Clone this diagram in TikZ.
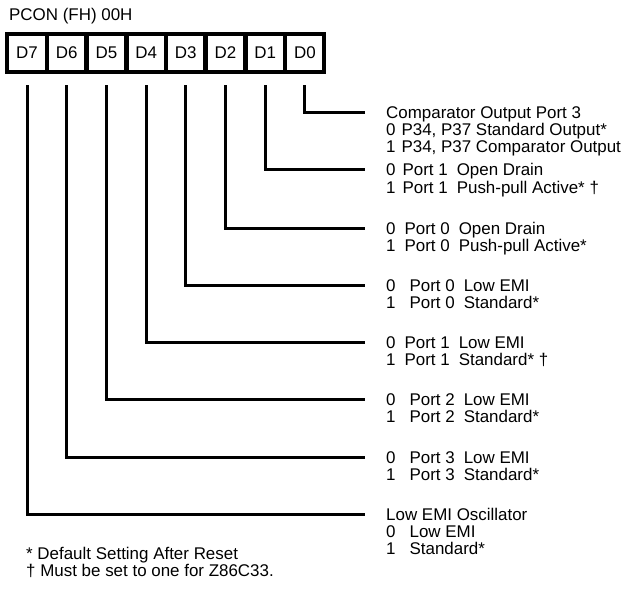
\documentclass[tikz,border=0pt]{standalone}
\usepackage{fontspec}
\setmainfont{Liberation Sans}
\usetikzlibrary{positioning}

\begin{document}
\begin{tikzpicture}[
  x=1bp, y=-1bp,
  regbox/.style={rectangle, fill=black, minimum width=321bp, minimum height=42bp, inner sep=0pt},
  regbit/.style={rectangle, fill=white, minimum width=35bp, minimum height=34bp, inner sep=0pt, font=\fontsize{17}{17}\selectfont},
  txt/.style={anchor=base west, inner sep=0pt, font=\fontsize{17}{17}\selectfont},
  wire/.style={line width=3bp},
]
\useasboundingbox (0,0) rectangle (638,590);

% register
\node[txt] (title) at (9,21) {PCON (FH) 00H};
\node[regbox] (reg) at (165.5,53) {};
\node[regbit] (c7) at (27,53) {D7};
\node[regbit] (c6) at (66.7,53) {D6};
\node[regbit] (c5) at (106.4,53) {D5};
\node[regbit] (c4) at (146.1,53) {D4};
\node[regbit] (c3) at (185.8,53) {D3};
\node[regbit] (c2) at (225.5,53) {D2};
\node[regbit] (c1) at (265.2,53) {D1};
\node[regbit] (c0) at (304.9,53) {D0};

% bit descriptions
\node[txt] (t0a) at (386,119) {Comparator Output Port 3};
\node[txt] (t0b) at (386,136) {0\hspace{6bp}P34, P37 Standard Output*};
\node[txt] (t0c) at (386,153) {1\hspace{6bp}P34, P37 Comparator Output};

\node[txt] (t1a) at (386,176) {0\hspace{7bp}Port 1\hspace{9bp}Open Drain};
\node[txt] (t1b) at (386,193) {1\hspace{7bp}Port 1\hspace{9bp}Push-pull Active* †};

\node[txt] (t2a) at (386,234) {0\hspace{9bp}Port 0\hspace{9bp}Open Drain};
\node[txt] (t2b) at (386,251) {1\hspace{9bp}Port 0\hspace{9bp}Push-pull Active*};

\node[txt] (t3a) at (386,291) {0\hspace{14bp}Port 0\hspace{9bp}Low EMI};
\node[txt] (t3b) at (386,308) {1\hspace{14bp}Port 0\hspace{9bp}Standard*};

\node[txt] (t4a) at (386,348) {0\hspace{9bp}Port 1\hspace{9bp}Low EMI};
\node[txt] (t4b) at (386,365) {1\hspace{9bp}Port 1\hspace{9bp}Standard* †};

\node[txt] (t5a) at (386,405) {0\hspace{14bp}Port 2\hspace{9bp}Low EMI};
\node[txt] (t5b) at (386,422) {1\hspace{14bp}Port 2\hspace{9bp}Standard*};

\node[txt] (t6a) at (386,463) {0\hspace{14bp}Port 3\hspace{9bp}Low EMI};
\node[txt] (t6b) at (386,480) {1\hspace{14bp}Port 3\hspace{9bp}Standard*};

\node[txt] (t7a) at (386,520) {Low EMI Oscillator};
\node[txt] (t7b) at (386,537) {0\hspace{14bp}Low EMI};
\node[txt] (t7c) at (386,554) {1\hspace{14bp}Standard*};

% leader lines
\draw[wire] ([yshift=-15bp]c0.south) |- ([xshift=-21bp,yshift=6bp]t0a.base west);
\draw[wire] ([yshift=-15bp]c1.south) |- ([xshift=-21bp,yshift=6bp]t1a.base west);
\draw[wire] ([yshift=-15bp]c2.south) |- ([xshift=-21bp,yshift=6bp]t2a.base west);
\draw[wire] ([yshift=-15bp]c3.south) |- ([xshift=-21bp,yshift=6bp]t3a.base west);
\draw[wire] ([yshift=-15bp]c4.south) |- ([xshift=-21bp,yshift=6bp]t4a.base west);
\draw[wire] ([yshift=-15bp]c5.south) |- ([xshift=-21bp,yshift=6bp]t5a.base west);
\draw[wire] ([yshift=-15bp]c6.south) |- ([xshift=-21bp,yshift=6bp]t6a.base west);
\draw[wire] ([yshift=-15bp]c7.south) |- ([xshift=-21bp,yshift=6bp]t7a.base west);

% notes
\node[txt] (n1) at (26,559) {* Default Setting After Reset};
\node[txt] (n2) at (26,576) {† Must be set to one for Z86C33.};
\end{tikzpicture}
\end{document}
